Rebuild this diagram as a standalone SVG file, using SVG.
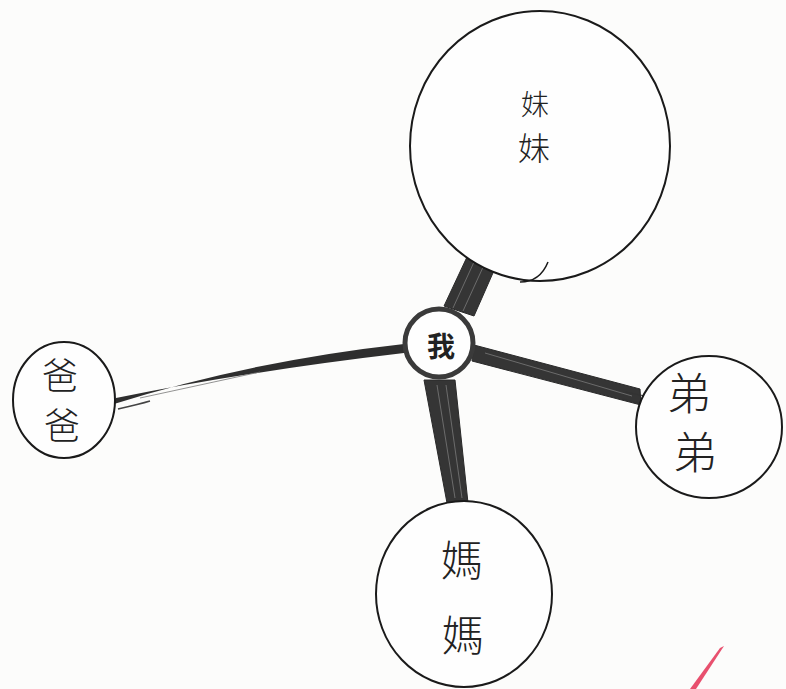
<svg xmlns="http://www.w3.org/2000/svg" width="786" height="689" viewBox="0 0 786 689">
<defs>
<style>
.node{fill:#fefefe;stroke:#1a1a1a;stroke-width:2;}
.hand{font-family:"Noto Sans CJK TC","Noto Sans CJK SC",sans-serif;font-weight:300;fill:#222;text-anchor:middle;dominant-baseline:central;}
.band{fill:#353535;stroke:#2a2a2a;stroke-width:1;}
.hatch{stroke:#bdbdbd;stroke-width:0.8;fill:none;opacity:0.5;}
</style>
</defs>
<rect width="786" height="689" fill="#fcfcfb"/>
<g id="connectors">
  <!-- 我 - 妹妹 -->
  <polygon class="band" points="444,306 467,257 496,266 474,316"/>
  <path class="hatch" d="M453,308 L474,262 M463,311 L484,265"/>
  <!-- 我 - 爸爸 -->
  <path d="M114,404 Q250,361 404,344 L404,353 Q250,371 116,398 Z" fill="#2e2e2e"/>
  <path d="M140,398 Q200,385 260,372" stroke="#777" stroke-width="0.8" fill="none"/>
  <path d="M118,409 Q140,404 150,401" stroke="#444" stroke-width="1.5" fill="none"/>
  <!-- 我 - 弟弟 -->
  <polygon class="band" points="474,345 640,389 641,405 472,361"/>
  <path class="hatch" d="M485,353 L632,396"/>
  <path d="M625,392 L645,396 M622,399 L645,404" stroke="#333" stroke-width="1.2" fill="none"/>
  <!-- 我 - 媽媽 -->
  <polygon class="band" points="424,380 455,380 468,503 447,503"/>
  <path class="hatch" d="M437,385 L455,498 M446,385 L462,498"/>
</g>
<g id="node-meimei">
  <ellipse class="node" cx="540" cy="146" rx="130" ry="135"/>
  <path d="M548,262 Q540,282 520,282" stroke="#1a1a1a" stroke-width="1.5" fill="none"/>
  <text class="hand" x="535" y="103" font-size="28">妹</text>
  <text class="hand" x="534" y="146" font-size="32">妹</text>
</g>
<g id="node-baba">
  <ellipse class="node" cx="64" cy="400" rx="51" ry="58"/>
  <text class="hand" x="60" y="373" font-size="36">爸</text>
  <text class="hand" x="62" y="423" font-size="36">爸</text>
</g>
<g id="node-didi">
  <ellipse class="node" cx="709" cy="427" rx="73" ry="71"/>
  <text class="hand" x="689" y="391" font-size="44">弟</text>
  <text class="hand" x="695" y="450" font-size="44">弟</text>
</g>
<g id="node-mama">
  <ellipse class="node" cx="464" cy="594" rx="88" ry="93"/>
  <text class="hand" x="462" y="557" font-size="42">媽</text>
  <text class="hand" x="463" y="632" font-size="42">媽</text>
</g>
<g id="node-wo">
  <circle cx="439" cy="343" r="34" fill="#fefefe" stroke="#3a3a3a" stroke-width="5"/>
  <text x="441" y="345" font-size="28" font-weight="bold" font-family="'Noto Sans CJK TC','Noto Sans CJK SC',sans-serif" text-anchor="middle" dominant-baseline="central" fill="#222">我</text>
</g>
<path d="M690,689 L720,648 L724,646 L696,689 Z" fill="#e8506e"/>
</svg>
